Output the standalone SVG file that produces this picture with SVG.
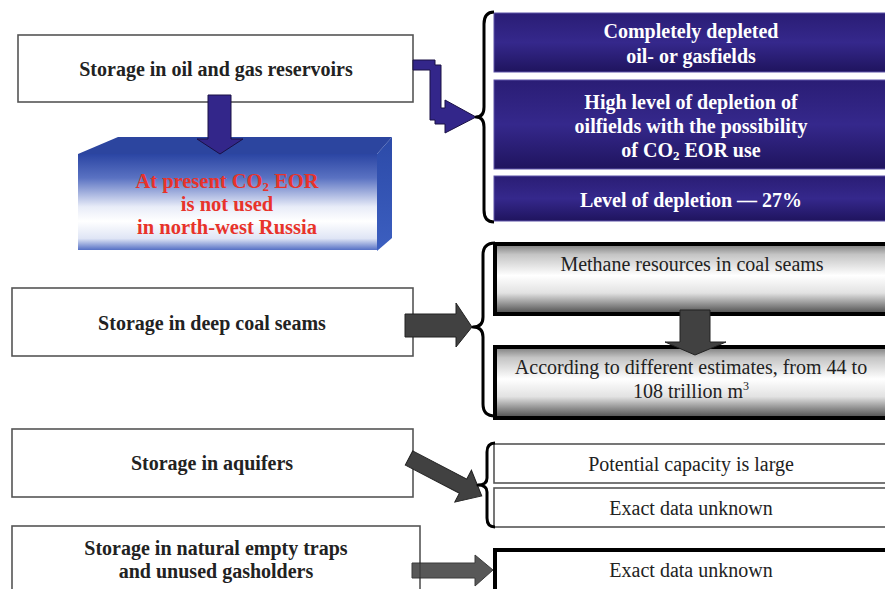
<svg xmlns="http://www.w3.org/2000/svg" width="885" height="589" viewBox="0 0 885 589">
<defs>
<linearGradient id="gPurple" x1="0" y1="0" x2="0" y2="1">
<stop offset="0" stop-color="#2a1d75"/>
<stop offset="0.5" stop-color="#35288c"/>
<stop offset="1" stop-color="#1f145e"/>
</linearGradient>
<linearGradient id="gGray" x1="0" y1="0" x2="0" y2="1">
<stop offset="0" stop-color="#7a7a7a"/>
<stop offset="0.15" stop-color="#c4c4c4"/>
<stop offset="0.45" stop-color="#ffffff"/>
<stop offset="0.7" stop-color="#e2e2e2"/>
<stop offset="1" stop-color="#4a4a4a"/>
</linearGradient>
<linearGradient id="gBlue" x1="0" y1="0" x2="0" y2="1">
<stop offset="0" stop-color="#2b45a3"/>
<stop offset="0.25" stop-color="#5a72c2"/>
<stop offset="0.55" stop-color="#e8ecf8"/>
<stop offset="0.7" stop-color="#ffffff"/>
<stop offset="0.88" stop-color="#dfe5f5"/>
<stop offset="1" stop-color="#5570c5"/>
</linearGradient>
<linearGradient id="gSide" x1="0" y1="0" x2="0" y2="1">
<stop offset="0" stop-color="#2c4aa8"/>
<stop offset="1" stop-color="#3c5fc0"/>
</linearGradient>
</defs>
<style>
.lbox{fill:#ffffff;stroke:#555555;stroke-width:1.6}
.pbox{fill:url(#gPurple);stroke:#5c52a8;stroke-width:1}
.gbox{fill:url(#gGray);stroke:#000000;stroke-width:4}
.tbox{fill:#ffffff;stroke:#555555;stroke-width:1.6}
.kbox{fill:#ffffff;stroke:#000000;stroke-width:4}
.bt{font-family:"Liberation Serif","Times New Roman",serif;font-weight:bold;font-size:20px;text-anchor:middle;fill:#222222}
.wt{font-family:"Liberation Serif","Times New Roman",serif;font-weight:bold;font-size:20px;text-anchor:middle;fill:#ffffff}
.rt{font-family:"Liberation Serif","Times New Roman",serif;font-weight:bold;font-size:20.5px;text-anchor:middle;fill:#e8332a}
.nt{font-family:"Liberation Serif","Times New Roman",serif;font-size:20px;text-anchor:middle;fill:#222222}
.brace{fill:none;stroke:#000000;stroke-width:3;stroke-linejoin:round}
.parrow{fill:#33268a;stroke:#1a1045;stroke-width:1}
.darrow{fill:#414141;stroke:#222222;stroke-width:1}
</style>

<g id="node-oil-gas">
<rect class="lbox" x="18" y="35" width="395" height="67"/>
<text class="bt" x="216" y="76">Storage in oil and gas reservoirs</text>
</g>

<g id="node-eor">
<polygon points="78,154 118,137 392,137 377,154" fill="#2c459f"/>
<polygon points="377,154 392,137 392,238 377,251" fill="url(#gSide)"/>
<rect x="78" y="154" width="299" height="96" fill="url(#gBlue)"/>
<text class="rt" x="227" y="188">At present CO<tspan font-size="13" dy="3">2</tspan><tspan dy="-3"> EOR</tspan></text>
<text class="rt" x="227" y="211">is not used</text>
<text class="rt" x="227" y="234">in north-west Russia</text>
</g>

<g id="node-depleted">
<rect class="pbox" x="494" y="13" width="395" height="59"/>
<text class="wt" x="691" y="38">Completely depleted</text>
<text class="wt" x="691" y="63">oil- or gasfields</text>
</g>

<g id="node-high-depletion">
<rect class="pbox" x="494" y="80" width="395" height="89"/>
<text class="wt" x="691" y="109">High level of depletion of</text>
<text class="wt" x="691" y="133">oilfields with the possibility</text>
<text class="wt" x="691" y="157">of CO<tspan font-size="13" dy="3">2</tspan><tspan dy="-3"> EOR use</tspan></text>
</g>

<g id="node-level">
<rect class="pbox" x="494" y="176" width="395" height="45"/>
<text class="wt" x="691" y="207">Level of depletion — 27%</text>
</g>

<g id="node-coal">
<rect class="lbox" x="12" y="288" width="401" height="68"/>
<text class="bt" x="212" y="330">Storage in deep coal seams</text>
</g>

<g id="node-methane">
<rect class="gbox" x="495" y="244" width="400" height="70"/>
<text class="nt" x="692" y="271">Methane resources in coal seams</text>
</g>

<g id="node-estimates">
<rect class="gbox" x="495" y="347" width="400" height="71"/>
<text class="nt" x="691" y="374">According to different estimates, from 44 to</text>
<text class="nt" x="691" y="398">108 trillion m<tspan font-size="12" dy="-8">3</tspan></text>
</g>

<g id="node-aquifers">
<rect class="lbox" x="12" y="429" width="401" height="68"/>
<text class="bt" x="212" y="470">Storage in aquifers</text>
</g>

<g id="node-capacity">
<rect class="tbox" x="494" y="444" width="400" height="39"/>
<text class="nt" x="691" y="471">Potential capacity is large</text>
</g>

<g id="node-unknown1">
<rect class="tbox" x="494" y="488" width="400" height="39"/>
<text class="nt" x="691" y="515">Exact data unknown</text>
</g>

<g id="node-traps">
<rect class="lbox" x="12" y="526" width="408" height="80"/>
<text class="bt" x="216" y="555">Storage in natural empty traps</text>
<text class="bt" x="216" y="578">and unused gasholders</text>
</g>

<g id="node-unknown2">
<rect class="kbox" x="495" y="550" width="400" height="50"/>
<text class="nt" x="691" y="577">Exact data unknown</text>
</g>

<g id="connectors">
<polygon class="parrow" points="208,95 231,95 231,139 243,139 220,154 197,139 208,139"/>
<polygon class="parrow" points="413,60 435,60 435,65 441,65 441,108 445,108 445,100 476,117 445,133 445,124 435,124 435,120 430,120 430,70 413,70"/>
<path class="brace" d="M494,12 Q484,12 484,24 L484,107 Q484,117 476,117 Q484,117 484,127 L484,210 Q484,222 494,222"/>
<polygon class="darrow" points="405,314 456,314 456,303 472,327 456,347 456,337 405,337"/>
<path class="brace" d="M495,243 Q483,243 483,255 L483,317 Q483,327 473,327 Q483,327 483,337 L483,404 Q483,416 495,416"/>
<polygon class="darrow" points="680,310 710,310 710,342 726,342 695,355 665,342 680,342"/>
<polygon class="darrow" transform="translate(409,458) rotate(27.5)" points="0,-8 61,-8 61,-18 82,0 61,18 61,8 0,8"/>
<path class="brace" d="M495,443 Q487,443 487,452 L487,478 Q487,485 478,485 Q487,485 487,492 L487,518 Q487,527 495,527"/>
<polygon class="darrow" opacity="0.88" points="412,563 475,563 475,555 493,570 475,586 475,578 412,578"/>
</g>
</svg>
